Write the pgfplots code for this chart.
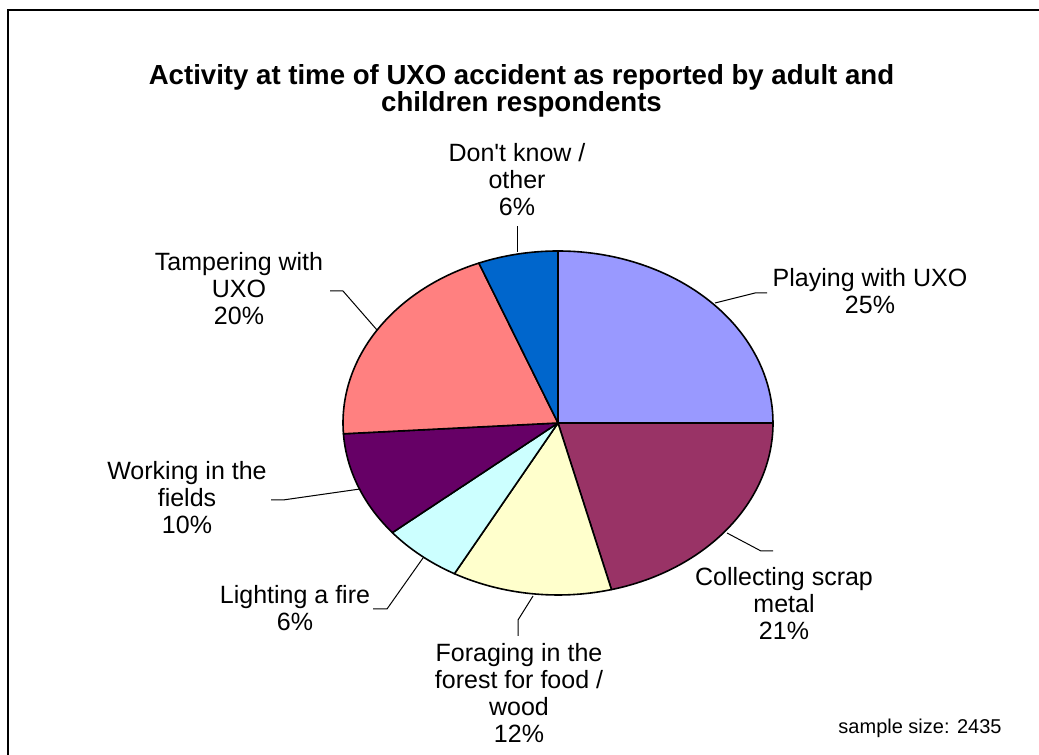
\documentclass[border=0pt]{standalone}
\usepackage{pgfplots}
\pgfplotsset{compat=1.18}
\usepackage{fontspec}
\setmainfont{Liberation Sans}
\definecolor{cPlay}{HTML}{9999FF}
\definecolor{cScrap}{HTML}{993366}
\definecolor{cForage}{HTML}{FFFFCC}
\definecolor{cFire}{HTML}{CCFFFF}
\definecolor{cField}{HTML}{660066}
\definecolor{cTamper}{HTML}{FF8080}
\definecolor{cOther}{HTML}{0066CC}
\newcommand{\straightq}{\XeTeXglyph\XeTeXcharglyph"27\relax}
% #1 colour, #2 cumulative percent before slice, #3 slice percent
\newcommand{\slice}[3]{%
  \filldraw[fill=#1, draw=black, line width=0.8pt, line join=round]
    (axis cs:558,332) -- ++({90-3.6*(#2)}:107.5pt and 86pt)
    arc[start angle={90-3.6*(#2)}, end angle={90-3.6*(#2+#3)}, x radius=107.5pt, y radius=86pt] -- cycle;}
\begin{document}
\begin{tikzpicture}
\begin{axis}[
  scale only axis, width=519.5pt, height=377.5pt,
  xmin=0, xmax=1039, ymin=0, ymax=755,
  hide axis, clip=false]
% frame
\draw[line width=1pt] (axis cs:8,0) -- (axis cs:8,745) -- (axis cs:1039,745);
% title
\node[align=center, font=\bfseries\fontsize{13.8}{13.5}\selectfont] at (axis cs:521.5,664.5)
  {Activity at time of UXO accident as reported by adult and\\children respondents};
% slices: 25, 21, 12, 6, 10, 20, 6
\slice{cPlay}{0}{25}
\slice{cScrap}{25}{21}
\slice{cForage}{46}{12}
\slice{cFire}{58}{6}
\slice{cField}{64}{10}
\slice{cTamper}{74}{20}
\slice{cOther}{94}{6}
% leader lines
\begin{scope}[line width=0.5pt]
\draw (axis cs:517,503) -- (axis cs:517,529);
\draw (axis cs:715,452) -- (axis cs:755,462) -- (axis cs:767,462);
\draw (axis cs:727,222) -- (axis cs:761,204) -- (axis cs:773,204);
\draw (axis cs:533,159) -- (axis cs:518,135) -- (axis cs:518,119);
\draw (axis cs:423,197) -- (axis cs:387,146) -- (axis cs:373,146);
\draw (axis cs:360,266) -- (axis cs:283,255) -- (axis cs:271,255);
\draw (axis cs:377,425) -- (axis cs:343,464) -- (axis cs:330,464);
\end{scope}
% labels
\begin{scope}[every node/.style={align=center, inner sep=0pt, font=\fontsize{12.5}{13.5}\selectfont}]
\node at (axis cs:517,575) {Don\straightq t know /\\other\\6\%};
\node at (axis cs:870,463.5) {Playing with UXO\\25\%};
\node at (axis cs:784,151) {Collecting scrap\\metal\\21\%};
\node at (axis cs:519,62) {Foraging in the\\forest for food /\\wood\\12\%};
\node at (axis cs:295,147) {Lighting a fire\\6\%};
\node at (axis cs:187,257.5) {Working in the\\fields\\10\%};
\node at (axis cs:239,466) {Tampering with\\UXO\\20\%};
\end{scope}
\node[font=\fontsize{10}{12}\selectfont] at (axis cs:920,27) {sample size: 2435};
\end{axis}
\pgfresetboundingbox
\path[use as bounding box] (current axis.south west) rectangle (current axis.north east);
\end{tikzpicture}
\end{document}
